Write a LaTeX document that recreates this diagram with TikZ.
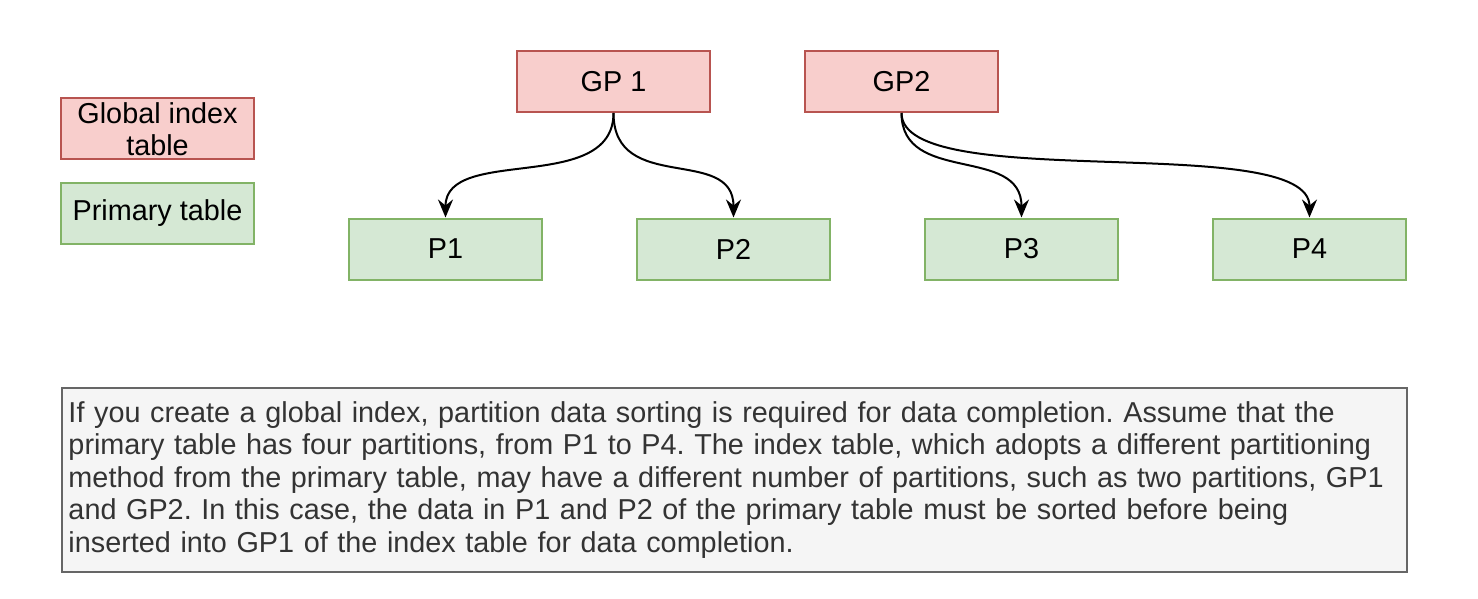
\documentclass[tikz,border=0pt]{standalone}
\usepackage{fontspec}
\setmainfont{Liberation Sans}
\usetikzlibrary{arrows.meta}

\definecolor{gifill}{HTML}{F8CECC}
\definecolor{gidraw}{HTML}{B85450}
\definecolor{ptfill}{HTML}{D5E8D4}
\definecolor{ptdraw}{HTML}{82B366}
\definecolor{notefill}{HTML}{F5F5F5}
\definecolor{notedraw}{HTML}{666666}
\definecolor{notetext}{HTML}{333333}

\def\boxw{96.5pt}
\def\boxh{30.5pt}

\begin{document}
\frenchspacing
\begin{tikzpicture}[x=0.5pt,y=-0.5pt,
    every node/.style={font=\fontsize{14.4}{16.25}\selectfont},
    gidx/.style={draw=gidraw,fill=gifill,line width=1pt,minimum width=\boxw,
      minimum height=\boxh,align=center,inner sep=1pt},
    prim/.style={draw=ptdraw,fill=ptfill,line width=1pt,minimum width=\boxw,
      minimum height=\boxh,align=center,inner sep=1pt},
    link/.style={line width=1pt,-{Stealth[length=9pt,width=7.5pt,inset=3pt]}}]
  \useasboundingbox (0,0) rectangle (1478,599);

  % legend
  \node[gidx] (leggi) at (157.5,129) {Global index\\table};
  \node[prim] (legpt) at (157.5,213) {Primary table};

  % index table partitions
  \node[gidx] (gp1) at (613.5,81.5) {GP 1};
  \node[gidx] (gp2) at (901.5,81.5) {GP2};

  % primary table partitions
  \node[prim] (p1) at (445.5,249) {P1};
  \node[prim] (p2) at (733.5,249) {P2};
  \node[prim] (p3) at (1021.5,249) {P3};
  \node[prim] (p4) at (1309.5,249) {P4};

  \draw[link] (gp1.south) .. controls (613.5,195) and (445.5,145) .. (p1.north);
  \draw[link] (gp1.south) .. controls (613.5,195) and (733.5,145) .. (p2.north);
  \draw[link] (gp2.south) .. controls (901.5,185) and (1021.5,145) .. (p3.north);
  \draw[link] (gp2.south) .. controls (901.5,195) and (1309.5,130) .. (p4.north);

  % note
  \node[draw=notedraw,fill=notefill,line width=1pt,text=notetext,anchor=north west,
    minimum width=672.5pt,minimum height=92pt,text width=666pt,inner xsep=3pt,
    align=left] (note) at (61,387)
    {If you create a global index, partition data sorting is required for data completion. Assume that the\\
     primary table has four partitions, from P1 to P4. The index table, which adopts a different partitioning\\
     method from the primary table, may have a different number of partitions, such as two partitions, GP1\\
     and GP2. In this case, the data in P1 and P2 of the primary table must be sorted before being\\
     inserted into GP1 of the index table for data completion.};
\end{tikzpicture}
\end{document}
